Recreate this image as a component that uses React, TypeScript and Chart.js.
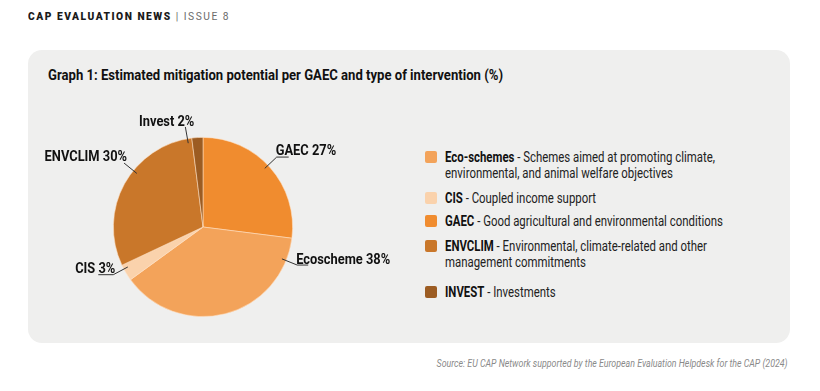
import React, { useEffect, useRef } from "react";
import { Chart, registerables } from "chart.js";

Chart.register(...registerables);

// ---- data ----
const sliceLabels = ["GAEC", "Ecoscheme", "CIS", "ENVCLIM", "Invest"];
const sliceValues = [27, 38, 3, 30, 2];
const sliceColors = ["#F08C2F", "#F3A35A", "#FAD2AC", "#C9772A", "#9C5C22"];

const legendNames = ["Eco-schemes", "CIS", "GAEC", "ENVCLIM", "INVEST"];
const legendDescriptions = [
  "Schemes aimed at promoting climate,\nenvironmental, and animal welfare objectives",
  "Coupled income support",
  "Good agricultural and environmental conditions",
  "Environmental, climate-related and other\nmanagement commitments",
  "Investments",
];
const legendColors = ["#F3A35A", "#FAD2AC", "#F08C2F", "#C9772A", "#9C5C22"];

const headerBold = "CAP EVALUATION NEWS";
const headerLight = "| ISSUE 8";
const titleText = "Graph 1: Estimated mitigation potential per GAEC and type of intervention (%)";
const sourceText =
  "Source: EU CAP Network supported by the European Evaluation Helpdesk for the CAP (2024)";

// ---- label layout (styles, not data) ----
const labelAngles = [46.5, 112, 242, 309, 350]; // degrees clockwise from top
const labelHoriz = [12, 11, -15, 0, 0];
const labelTextDx = [-1, -1, 2, 3, 9];
const labelTextDy = [0, 1, 0, 0, 1];

const FONT = "Roboto, 'Liberation Sans', sans-serif";

function measure(text: string, font: string): number {
  const c = document.createElement("canvas").getContext("2d")!;
  c.font = font;
  return c.measureText(text).width;
}

const LABEL_FONT = `bold 14.5px ${FONT}`;

const labelPlugin = {
  id: "leaderLabels",
  afterDatasetsDraw(chart: any) {
    const ctx = chart.ctx;
    const meta = chart.getDatasetMeta(0);
    const arc0 = meta.data[0];
    const cx = arc0.x;
    const cy = arc0.y;
    const r = arc0.outerRadius;
    ctx.save();
    ctx.font = LABEL_FONT;
    const k = 94 / ctx.measureText(`Ecoscheme 38%`).width;
    ctx.strokeStyle = "#333";
    ctx.lineWidth = 1;
    ctx.fillStyle = "#111";
    ctx.textBaseline = "alphabetic";
    sliceLabels.forEach((lab, i) => {
      const a = (labelAngles[i] * Math.PI) / 180;
      const dx = Math.sin(a);
      const dy = -Math.cos(a);
      const ax = cx + dx * r * 0.95;
      const ay = cy + dy * r * 0.95;
      const bx = cx + dx * (r + 12);
      const by = cy + dy * (r + 12);
      const h = labelHoriz[i];
      ctx.beginPath();
      ctx.moveTo(ax, ay);
      ctx.lineTo(bx, by);
      if (h !== 0) ctx.lineTo(bx + h, by);
      ctx.stroke();
      const text = `${lab} ${sliceValues[i]}%`;
      const right = dx > 0;
      ctx.save();
      ctx.translate(bx + labelTextDx[i], by - 2 + labelTextDy[i]);
      ctx.scale(k, 1);
      ctx.textAlign = right ? "left" : "right";
      ctx.fillText(text, 0, 0);
      ctx.restore();
    });
    ctx.restore();
  },
};

export default function App() {
  const canvasRef = useRef<HTMLCanvasElement>(null);

  useEffect(() => {
    document.body.style.margin = "0";
    const chart = new Chart(canvasRef.current!, {
      type: "pie",
      data: {
        labels: sliceLabels,
        datasets: [
          {
            data: sliceValues,
            backgroundColor: sliceColors,
            borderColor: "rgba(255,225,195,0.7)",
            borderWidth: 0.8,
          },
        ],
      },
      options: {
        animation: false,
        responsive: false,
        layout: { padding: { left: 83, right: 107, top: 37, bottom: 37 } },
        plugins: { legend: { display: false }, tooltip: { enabled: false } },
      },
      plugins: [labelPlugin],
    });
    return () => chart.destroy();
  }, []);

  const legendTops = [149, 190, 213, 238, 284];

  const titleK = 455 / measure(titleText, `bold 15px ${FONT}`);
  const sourceK = 351 / measure(sourceText, `italic 11.5px ${FONT}`);
  const legW =
    measure(legendNames[0], `bold 14px ${FONT}`) +
    measure(" - Schemes aimed at promoting climate,", `14px ${FONT}`);
  const legK = 270 / legW;
  const HLS = 1.7;
  const headW =
    measure(headerBold, `900 11.5px ${FONT}`) +
    measure(" " + headerLight, `11.5px ${FONT}`) +
    HLS * (headerBold.length + headerLight.length + 1);
  const headK = 202 / headW;

  return (
    <div
      style={{
        position: "absolute",
        left: 0,
        top: 0,
        width: 820,
        height: 391,
        background: "#ffffff",
        overflow: "hidden",
        fontFamily: FONT,
      }}
    >
      <div
        style={{
          position: "absolute",
          left: 28,
          top: 9,
          fontSize: 11.5,
          letterSpacing: HLS,
          whiteSpace: "nowrap",
          color: "#1a1a1a",
          transform: `scaleX(${headK})`,
          transformOrigin: "left top",
        }}
      >
        <span style={{ fontWeight: 900 }}>{headerBold}</span>{" "}
        <span style={{ color: "#6b6b6b" }}>{headerLight}</span>
      </div>
      <div
        style={{
          position: "absolute",
          left: 28,
          top: 50,
          width: 762,
          height: 293,
          background: "#efefee",
          borderRadius: 14,
        }}
      />
      <div
        style={{
          position: "absolute",
          left: 48,
          top: 66,
          fontSize: 15,
          fontWeight: "bold",
          color: "#111",
          whiteSpace: "nowrap",
          transform: `scaleX(${titleK})`,
          transformOrigin: "left top",
        }}
      >
        {titleText}
      </div>
      <canvas
        ref={canvasRef}
        width={370}
        height={254}
        style={{ position: "absolute", left: 30, top: 100, width: 370, height: 254 }}
      />
      {legendNames.map((n, i) => (
        <div key={n} style={{ position: "absolute", left: 425, top: legendTops[i] }}>
          <div
            style={{
              position: "absolute",
              left: 0,
              top: 2,
              width: 12,
              height: 12,
              borderRadius: 2,
              background: legendColors[i],
            }}
          />
          <div
            style={{
              position: "absolute",
              left: 20,
              top: 0,
              fontSize: 14,
              lineHeight: "16px",
              color: "#222",
              whiteSpace: "pre",
              transform: `scaleX(${legK})`,
              transformOrigin: "left top",
            }}
          >
            <span style={{ fontWeight: "bold", color: "#111" }}>{n}</span> - {legendDescriptions[i]}
          </div>
        </div>
      ))}
      <div
        style={{
          position: "absolute",
          right: 32,
          top: 356,
          fontSize: 11.5,
          fontStyle: "italic",
          color: "#8a8a8a",
          whiteSpace: "nowrap",
          transform: `scaleX(${sourceK})`,
          transformOrigin: "right top",
        }}
      >
        {sourceText}
      </div>
    </div>
  );
}
